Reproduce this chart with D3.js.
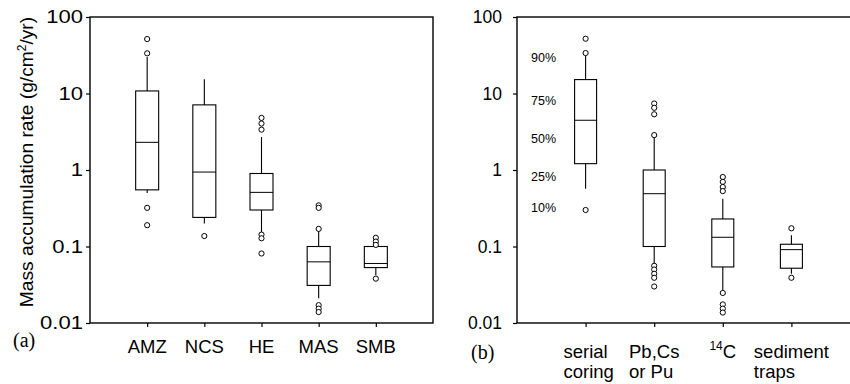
<!DOCTYPE html>
<html>
<head>
<meta charset="utf-8">
<script src="https://cdn.jsdelivr.net/npm/d3@7"></script>
<style>
  body { margin: 0; background: #fff; }
  svg { display: block; }
  text { font-family: "Liberation Sans", Arial, sans-serif; fill: #000; }
</style>
</head>
<body>
<svg id="chart" width="850" height="384"></svg>
<script>
// panel (a): by region
var catsA = ["AMZ", "NCS", "HE", "MAS", "SMB"];
var p10A = [0.5, 0.2, 0.155, 0.021, 0.042];
var q1A  = [0.55, 0.24, 0.3, 0.031, 0.053];
var medA = [2.3, 0.94, 0.51, 0.063, 0.06];
var q3A  = [10.8, 7.1, 0.9, 0.1, 0.1];
var p90A = [30, 15.3, 2.7, 0.17, 0.1];
var outA = [
    [51.5, 33.5, 0.32, 0.19],
    [0.137],
    [4.8, 4.05, 3.37, 0.143, 0.128, 0.081],
    [0.345, 0.32, 0.17, 0.0171, 0.0154, 0.0139],
    [0.13, 0.116, 0.105, 0.038]
];

// panel (b): by method
var catsB = [["serial", "coring"], ["Pb,Cs", "or Pu"], ["14C"], ["sediment", "traps"]];
var p10B = [0.57, 0.057, 0.027, 0.044];
var q1B  = [1.21, 0.1, 0.054, 0.052];
var medB = [4.47, 0.49, 0.132, 0.091];
var q3B  = [15.2, 1.0, 0.229, 0.107];
var p90B = [31.6, 2.7, 0.42, 0.14];
var outB = [
    [52, 33.8, 0.3],
    [7.4, 6.5, 5.35, 2.86, 0.056, 0.05, 0.044, 0.039, 0.03],
    [0.81, 0.7, 0.6, 0.53, 0.0247, 0.0175, 0.0154, 0.0137],
    [0.173, 0.039]
];

var pctLabels = ["90%", "75%", "50%", "25%", "10%"];
var yTicks = [0.01, 0.1, 1, 10, 100];

var svg = d3.select('#chart');
var yTop = 17, yBottom = 323;

var y = d3.scaleLog().domain([0.01, 100]).range([yBottom, yTop]);

function fmt(d) {
    return d >= 1 ? d3.format('d')(d) : String(d);
}

function drawPanel(left, right, cats, p10, q1, med, q3, p90, outs, boxW, labelGap, labelStretch) {
    var keys = cats.map(function (c, i) { return i; });
    var x = d3.scalePoint().domain(keys).range([left, right]).padding(1);
    var g = svg.append('g');

    // frame
    g.append('rect')
        .attr('x', left).attr('y', yTop)
        .attr('width', right - left).attr('height', yBottom - yTop)
        .attr('fill', 'none').attr('stroke', '#000').attr('stroke-width', 1.4);

    var ay = g.append('g').attr('transform', 'translate(' + left + ',0)')
        .call(d3.axisLeft(y).tickValues(yTicks).tickFormat(fmt).tickSize(4).tickSizeOuter(0));
    ay.select('.domain').remove();
    ay.selectAll('line').attr('stroke-width', 1.2);
    // the tick labels of (a) are drawn wider than those of (b)
    ay.selectAll('text')
        .attr('x', null)
        .attr('transform', 'translate(' + (-labelGap) + ',0) scale(' + labelStretch + ',1)')
        .style('font-size', '17.5px')
        .style('font-family', '"Liberation Sans", Arial, sans-serif');

    var ax = g.append('g').attr('transform', 'translate(0,' + yBottom + ')')
        .call(d3.axisBottom(x).tickSize(4).tickSizeOuter(0).tickFormat(''));
    ax.select('.domain').remove();
    ax.selectAll('line').attr('stroke-width', 1.2);

    var box = g.selectAll('g.box').data(keys).enter().append('g').attr('class', 'box');

    // whiskers
    box.append('line')
        .attr('x1', function (i) { return x(i); }).attr('x2', function (i) { return x(i); })
        .attr('y1', function (i) { return y(p90[i]); }).attr('y2', function (i) { return y(q3[i]); })
        .attr('stroke', '#000').attr('stroke-width', 1.1);
    box.append('line')
        .attr('x1', function (i) { return x(i); }).attr('x2', function (i) { return x(i); })
        .attr('y1', function (i) { return y(q1[i]); }).attr('y2', function (i) { return y(p10[i]); })
        .attr('stroke', '#000').attr('stroke-width', 1.1);

    box.append('rect')
        .attr('x', function (i) { return x(i) - boxW / 2; })
        .attr('y', function (i) { return y(q3[i]); })
        .attr('width', boxW)
        .attr('height', function (i) { return y(q1[i]) - y(q3[i]); })
        .attr('fill', 'none').attr('stroke', '#000').attr('stroke-width', 1.1);

    box.append('line')
        .attr('x1', function (i) { return x(i) - boxW / 2; })
        .attr('x2', function (i) { return x(i) + boxW / 2; })
        .attr('y1', function (i) { return y(med[i]); })
        .attr('y2', function (i) { return y(med[i]); })
        .attr('stroke', '#000').attr('stroke-width', 1);

    box.selectAll('circle')
        .data(function (i) { return outs[i].map(function (v) { return { i: i, v: v }; }); })
        .enter().append('circle')
        .attr('cx', function (d) { return x(d.i); })
        .attr('cy', function (d) { return y(d.v); })
        .attr('r', 2.6)
        .attr('fill', '#fff').attr('stroke', '#000').attr('stroke-width', 1);

    return x;
}

var xA = drawPanel(90, 433, catsA, p10A, q1A, medA, q3A, p90A, outA, 23, 7, 1.26);
var xB = drawPanel(517, 860, catsB, p10B, q1B, medB, q3B, p90B, outB, 22, 15, 1);

// category labels, panel (a)
svg.selectAll('text.catA').data(catsA).enter().append('text')
    .attr('class', 'catA')
    .attr('x', function (d, i) { return xA(i); })
    .attr('y', 353)
    .attr('text-anchor', 'middle')
    .style('font-size', '18.5px')
    .text(function (d) { return d; });

// category labels, panel (b): first line centred on the tick, second line left-aligned with it
catsB.forEach(function (lines, i) {
    var t = svg.append('text')
        .attr('y', 358)
        .style('font-size', '18.5px');
    if (lines[0] === '14C') {
        t.append('tspan').text('14').style('font-size', '12px').attr('dy', -8);
        t.append('tspan').text('C').attr('dy', 8);
    } else {
        t.append('tspan').attr('class', 'l0').text(lines[0]);
    }
    var w = t.node().getComputedTextLength();
    var x0 = xB(i) - w / 2;
    t.attr('x', x0);
    t.select('.l0').attr('x', x0);
    if (lines[1]) {
        t.append('tspan').attr('x', x0).attr('y', 378).text(lines[1]);
    }
});

// percentile guide
var pctY = [62, 105, 143, 181, 212];
svg.selectAll('text.pct').data(pctLabels).enter().append('text')
    .attr('class', 'pct')
    .attr('x', 531).attr('y', function (d, i) { return pctY[i]; })
    .style('font-size', '12.5px')
    .text(function (d) { return d; });

// y title
var title = svg.append('text')
    .attr('transform', 'translate(33,' + 162 + ') rotate(-90)')
    .attr('text-anchor', 'middle')
    .style('font-size', '19.2px');
title.append('tspan').text('Mass accumulation rate (g/cm');
title.append('tspan').text('2').style('font-size', '12px').attr('dy', -7);
title.append('tspan').text('/yr)').attr('dy', 7);

// panel tags
svg.append('text').attr('x', 13).attr('y', 347)
    .style('font-family', '"Liberation Serif", "Times New Roman", serif')
    .style('font-size', '20px').text('(a)');
svg.append('text').attr('x', 471).attr('y', 359)
    .style('font-family', '"Liberation Serif", "Times New Roman", serif')
    .style('font-size', '20px').text('(b)');
</script>
</body>
</html>
